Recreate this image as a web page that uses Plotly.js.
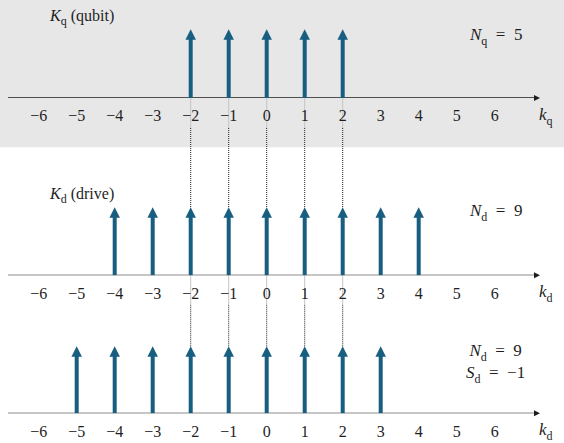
<!DOCTYPE html>
<html><head><meta charset="utf-8">
<script src="https://cdn.plot.ly/plotly-3.0.1.min.js"></script>
<style>html,body{margin:0;padding:0;background:#fff;}#chart{width:564px;height:443px;}</style>
</head><body><div id="chart"></div>
<script>
// ---- data ----
const tickValues = [-6,-5,-4,-3,-2,-1,0,1,2,3,4,5,6];
const qubitK = [-2,-1,0,1,2];
const qubitAmp = [1,1,1,1,1];
const driveK = [-4,-3,-2,-1,0,1,2,3,4];
const driveAmp = [1,1,1,1,1,1,1,1,1];
const shiftedK = [-5,-4,-3,-2,-1,0,1,2,3];
const shiftedAmp = [1,1,1,1,1,1,1,1,1];
const titleSymbols = ['K', 'K', null];
const titleSubs = ['q', 'd', null];
const titleNames = ['(qubit)', '(drive)', null];
const noteSymbols = [['N'], ['N'], ['N', 'S']];
const noteSubs = [['q'], ['d'], ['d', 'd']];
const noteValues = [['5'], ['9'], ['9', '−1']];
const axisSymbols = ['k', 'k', 'k'];
const axisSubs = ['q', 'd', 'd'];
const panelK = [qubitK, driveK, shiftedK];
const panelAmp = [qubitAmp, driveAmp, shiftedAmp];

// ---- geometry / style ----
const W = 564, H = 443;
const X0 = 266.7, DX = 38;               // pixel of k=0, pixels per unit
const xRange = [-X0/DX, (W - X0)/DX];
const axisPx = [98, 275.3, 413.3];       // baseline pixel (from top)
const stemPx = [68.7, 68, 67];           // pixel height of amplitude 1
const extraPx = 80;
const titlePx = [18, 195, null];
const notePx = [37, 213, 363];
const HEAD = 10.5;
const STEM = '#175e80', INK = '#1e1e1e';
const FONT = 'Liberation Serif, Times New Roman, serif';
const py = px => (H - px) / H;
const sfx = i => (i === 0 ? '' : String(i + 1));
const ital = (t, fs) => `<span style="font-style:italic;font-size:${fs}px">${t}</span>`;
const subs = (t, fs) => `<span style="font-size:${Math.round(fs*0.72)}px;baseline-shift:-${Math.round(fs*0.28)}px">${t}</span>`;
const sym = (s, b, fs) => ital(s, fs) + subs(b, fs);

const traces = [], annotations = [], shapes = [];
const layout = {
  width: W, height: H, margin: {l:0, r:0, t:0, b:0},
  paper_bgcolor: '#ffffff', plot_bgcolor: 'rgba(0,0,0,0)',
  showlegend: false, font: {family: FONT, size: 16, color: INK}
};

// gray background of the qubit panel
shapes.push({type:'rect', xref:'paper', yref:'paper', x0:0, x1:1, y0:py(147.3), y1:1,
  fillcolor:'#e7e7e7', line:{width:0}, layer:'below'});

for (let i = 0; i < 3; i++) {
  const s = sfx(i), xa = 'x' + s, ya = 'y' + s;
  const yRange = [0, extraPx / stemPx[i]];
  layout['xaxis' + s] = {anchor: ya, domain:[0,1], range: xRange, tickvals: tickValues,
    showline:false, showgrid:false, zeroline:false, ticks:'outside', ticklen:3,
    tickcolor:'rgba(0,0,0,0)', tickfont:{family:FONT, size:16, color:INK}, fixedrange:true};
  layout['yaxis' + s] = {anchor: xa, domain:[py(axisPx[i]), py(axisPx[i] - extraPx)], range: yRange,
    visible:false, showgrid:false, zeroline:false, fixedrange:true};

  // horizontal axis line with arrowhead
  const axStart = (8 - X0) / DX, axTip = (540 - X0) / DX, axHead = 6;
  traces.push({type:'scatter', mode:'lines', x:[axStart, axTip - (axHead - 1)/DX], y:[0, 0], xaxis:xa, yaxis:ya,
    line:{color:INK, width:1.3}, hoverinfo:'skip', cliponaxis:false});
  traces.push({type:'scatter', mode:'markers', x:[axTip], y:[0], xaxis:xa, yaxis:ya,
    marker:{symbol:'arrow-right', size:axHead, color:INK, line:{width:0}}, hoverinfo:'skip', cliponaxis:false});

  // stems (shafts)
  const headFrac = (HEAD - 1) / stemPx[i];
  const sx = [], sy = [];
  panelK[i].forEach((k, j) => { sx.push(k, k, null); sy.push(0, panelAmp[i][j] - headFrac, null); });
  traces.push({type:'scatter', mode:'lines', x:sx, y:sy, xaxis:xa, yaxis:ya,
    line:{color:STEM, width:4}, hoverinfo:'skip', cliponaxis:false});
  // arrowheads (tip sits on the amplitude)
  traces.push({type:'scatter', mode:'markers', x:panelK[i], y:panelAmp[i], xaxis:xa, yaxis:ya,
    marker:{symbol:'arrow-up', size:HEAD, color:STEM, line:{width:0}}, hoverinfo:'skip', cliponaxis:false});

  // axis label
  annotations.push({xref:'paper', yref:'paper', x:546/W, y:py(axisPx[i] + 18), xanchor:'center', yanchor:'middle',
    text:sym(axisSymbols[i], axisSubs[i], 17), showarrow:false, font:{family:FONT, size:17, color:INK}});
  // panel title
  if (titleSymbols[i]) annotations.push({xref:'paper', yref:'paper', x:81/W, y:py(titlePx[i]), xanchor:'center', yanchor:'middle',
    text:sym(titleSymbols[i], titleSubs[i], 16) + ' ' + titleNames[i], showarrow:false, font:{family:FONT, size:16, color:INK}});
  // note
  const lines = noteSymbols[i].map((n, j) => sym(n, noteSubs[i][j], 17) + '\u2002=\u2002' + noteValues[i][j]);
  annotations.push({xref:'paper', yref:'paper', x:495/W, y:py(notePx[i]), xanchor:'center', yanchor:'middle', align:'center',
    text:lines.join('<br>'), showarrow:false, font:{family:FONT, size:17, color:INK}});
}

// guide lines from qubit positions down to the next panel's arrow tips
for (let i = 0; i < 2; i++) {
  const tipPx = axisPx[i+1] - stemPx[i+1];
  qubitK.forEach(k => {
    shapes.push({type:'line', xref:'x', yref:'paper', x0:k, x1:k, y0:py(axisPx[i]), y1:py(axisPx[i] + 30),
      line:{color:'#c4c4c4', width:1}, layer:'below'});
    shapes.push({type:'line', xref:'x', yref:'paper', x0:k, x1:k, y0:py(axisPx[i] + 30), y1:py(tipPx),
      line:{color:'#222222', width:1, dash:'1px,1px'}, layer:'below'});
  });
}

layout.annotations = annotations;
layout.shapes = shapes;
Plotly.newPlot('chart', traces, layout, {displayModeBar:false, staticPlot:true});
</script>
</body></html>
